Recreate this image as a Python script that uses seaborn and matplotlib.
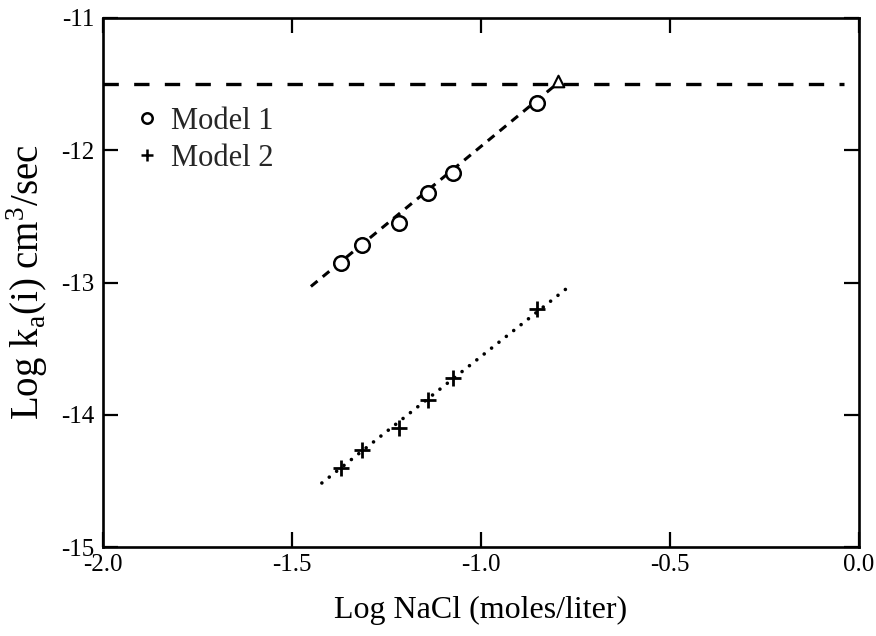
import matplotlib
matplotlib.use("Agg")
import matplotlib.pyplot as plt
from matplotlib.lines import Line2D
import seaborn as sns
import pandas as pd

# ---- data ----
nacl = [-1.370, -1.315, -1.217, -1.140, -1.074, -0.852]
model1 = [-12.853, -12.716, -12.550, -12.323, -12.172, -11.643]
model2 = [-14.403, -14.267, -14.100, -13.888, -13.722, -13.200]
tri_x = [-0.796]
tri_y = [-11.48]
fit1_x = [-1.450, -0.800]
fit1_y = [-13.030, -11.500]
fit2_x = [-1.421, -0.762]
fit2_y = [-14.516, -13.019]
limit_x = [-2.0, -0.04]
limit_y = [-11.5, -11.5]
xticks = [-2.0, -1.5, -1.0, -0.5, 0.0]
yticks = [-11, -12, -13, -14, -15]
labels = ["Model 1", "Model 2"]

sns.set_style("ticks")
plt.rcParams["font.family"] = ["Liberation Serif", "DejaVu Serif"]
plt.rcParams["axes.unicode_minus"] = False
plt.rcParams["mathtext.fontset"] = "custom"
plt.rcParams["mathtext.rm"] = "Liberation Serif"

fig = plt.figure(figsize=(8.76, 6.36), dpi=100)
ax = fig.add_axes([103 / 876, 1 - 547 / 636, (859 - 103) / 876, (547 - 18) / 636])

df = pd.DataFrame({"x": nacl, "m1": model1, "m2": model2})

sns.lineplot(x=limit_x, y=limit_y, ax=ax, color="black", lw=2.4,
             linestyle=(0, (4.6, 4.6)), estimator=None, sort=False)
sns.lineplot(x=fit1_x, y=fit1_y, ax=ax, color="black", lw=2.2,
             linestyle=(0, (2.8, 2.2)), estimator=None, sort=False)
sns.lineplot(x=fit2_x, y=fit2_y, ax=ax, color="black", lw=2.6,
             linestyle=(0, (0.01, 2.6)), dash_capstyle="round",
             estimator=None, sort=False)

sns.scatterplot(data=df, x="x", y="m1", ax=ax, marker="o", s=110,
                facecolor="white", edgecolor="black", linewidth=1.8, zorder=5)
sns.scatterplot(data=df, x="x", y="m2", ax=ax, marker="+", s=120,
                color="black", linewidth=2.0, zorder=5)
sns.scatterplot(x=tri_x, y=tri_y, ax=ax, marker="^", s=70,
                facecolor="white", edgecolor="black", linewidth=1.5, zorder=5)

ax.set_xlim(-2.0, 0.0)
ax.set_ylim(-15, -11)
ax.set_xticks(xticks)
ax.set_xticklabels([f"{v:.1f}" for v in xticks])
ax.set_yticks(yticks)
ax.set_yticklabels([str(v) for v in yticks])
ax.tick_params(direction="in", length=11, width=1.6, top=True, right=True,
               labelsize=18, colors="black")
ax.tick_params(axis="x", pad=5)
ax.tick_params(axis="y", pad=6)
for sp in ax.spines.values():
    sp.set_linewidth(1.9)
    sp.set_color("black")

ax.set_xlabel("Log NaCl (moles/liter)", fontsize=23, color="black")
ax.set_ylabel(r"Log k$_\mathregular{a}$(i) cm$^\mathregular{3}$/sec", fontsize=28,
              color="black")
ax.xaxis.set_label_coords(0.5, -0.092)
ax.yaxis.set_label_coords(-0.07, 0.5)

handles = [
    Line2D([], [], marker="o", ls="none", markersize=7.5, markerfacecolor="white",
           markeredgecolor="black", markeredgewidth=1.8),
    Line2D([], [], marker="+", ls="none", markersize=9, color="black",
           markeredgewidth=1.8),
]
ax.legend(handles, labels, loc="upper left", bbox_to_anchor=(0.046, 0.832),
          frameon=False, fontsize=22, handlelength=0.6, handletextpad=0.5,
          labelspacing=0.26, borderaxespad=0, borderpad=0)

fig.savefig("out.png", dpi=100)
